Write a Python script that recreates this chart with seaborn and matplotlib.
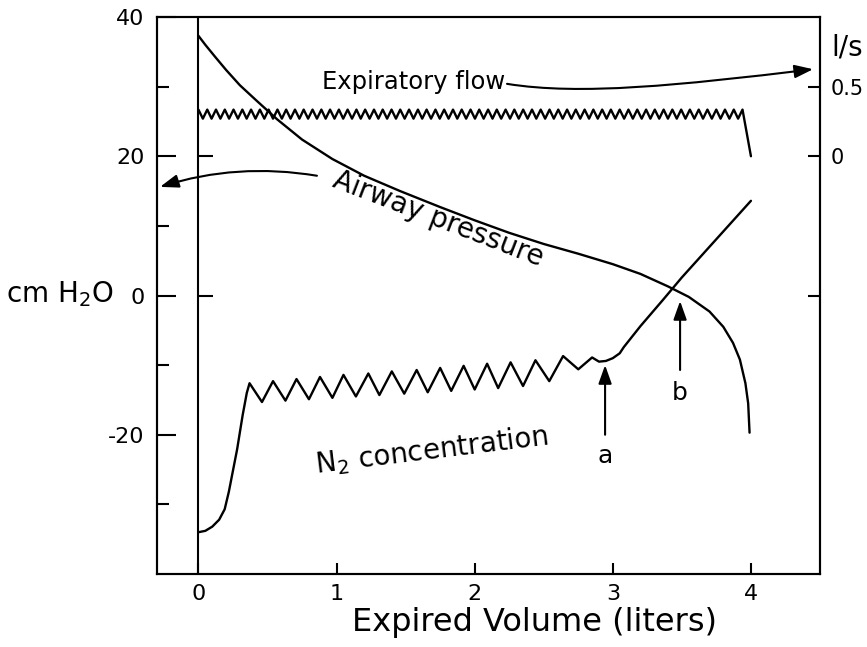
import numpy as np
import pandas as pd
import matplotlib
matplotlib.use("Agg")
import matplotlib.pyplot as plt
import seaborn as sns
from matplotlib.patches import FancyArrowPatch
from matplotlib.path import Path

# ---------------- data ----------------
# Airway pressure (cm H2O) vs expired volume (liters)
pressure_volume = [0.00, 0.05, 0.12, 0.20, 0.30, 0.42, 0.57, 0.75, 0.97, 1.20,
                   1.46, 1.75, 2.00, 2.25, 2.50, 2.75, 3.00, 3.20, 3.40, 3.55,
                   3.70, 3.80, 3.87, 3.92, 3.96, 3.98, 3.99]
pressure_value = [37.3, 36.0, 34.3, 32.4, 30.2, 28.0, 25.3, 22.4, 19.6, 17.2,
                  15.0, 12.7, 10.8, 9.0, 7.4, 6.0, 4.5, 3.1, 1.3, -0.2,
                  -2.3, -4.5, -6.8, -9.2, -12.6, -15.5, -19.7]

# N2 concentration (drawn on the cm H2O scale)
n2_volume = [0.00, 0.05, 0.10, 0.15, 0.19, 0.22, 0.28, 0.32, 0.35, 0.37,
             0.46, 0.54, 0.63, 0.71, 0.80, 0.88, 0.97, 1.05, 1.14, 1.23,
             1.31, 1.40, 1.49, 1.58, 1.66, 1.75, 1.83, 1.92, 2.00, 2.09,
             2.17, 2.26, 2.35, 2.44, 2.54, 2.64, 2.75, 2.85, 2.90, 2.95,
             3.00, 3.05, 3.08, 3.20, 3.36, 3.50, 3.75, 4.00]
n2_value = [-34.0, -33.8, -33.2, -32.2, -30.7, -28.2, -22.1, -17.2, -14.0, -12.6,
            -15.3, -12.3, -15.1, -12.0, -14.9, -11.7, -14.7, -11.4, -14.5, -11.2,
            -14.3, -10.9, -14.1, -10.7, -13.9, -10.4, -13.7, -10.1, -13.5, -9.8,
            -13.3, -9.6, -13.0, -9.3, -12.3, -8.7, -10.6, -8.9, -9.5, -9.4,
            -9.0, -8.3, -7.4, -4.4, -0.7, 2.6, 8.1, 13.6]

# Expiratory flow (l/s)
flow_volume = [0.000, 0.032, 0.064, 0.095, 0.127, 0.159, 0.191, 0.222, 0.254, 0.286,
               0.318, 0.349, 0.381, 0.413, 0.445, 0.477, 0.508, 0.540, 0.572, 0.604,
               0.635, 0.667, 0.699, 0.731, 0.762, 0.794, 0.826, 0.858, 0.890, 0.921,
               0.953, 0.985, 1.017, 1.048, 1.080, 1.112, 1.144, 1.175, 1.207, 1.239,
               1.271, 1.303, 1.334, 1.366, 1.398, 1.430, 1.461, 1.493, 1.525, 1.557,
               1.589, 1.620, 1.652, 1.684, 1.716, 1.747, 1.779, 1.811, 1.843, 1.874,
               1.906, 1.938, 1.970, 2.002, 2.033, 2.065, 2.097, 2.129, 2.160, 2.192,
               2.224, 2.256, 2.287, 2.319, 2.351, 2.383, 2.415, 2.446, 2.478, 2.510,
               2.542, 2.573, 2.605, 2.637, 2.669, 2.700, 2.732, 2.764, 2.796, 2.828,
               2.859, 2.891, 2.923, 2.955, 2.986, 3.018, 3.050, 3.082, 3.113, 3.145,
               3.177, 3.209, 3.241, 3.272, 3.304, 3.336, 3.368, 3.399, 3.431, 3.463,
               3.495, 3.526, 3.558, 3.590, 3.622, 3.653, 3.685, 3.717, 3.749, 3.780,
               3.812, 3.844, 3.876, 3.907, 3.939, 4.000]
flow_rate = [0.335, 0.27, 0.335, 0.27, 0.335, 0.27, 0.335, 0.27, 0.335, 0.27,
             0.335, 0.27, 0.335, 0.27, 0.335, 0.27, 0.335, 0.27, 0.335, 0.27,
             0.335, 0.27, 0.335, 0.27, 0.335, 0.27, 0.335, 0.27, 0.335, 0.27,
             0.335, 0.27, 0.335, 0.27, 0.335, 0.27, 0.335, 0.27, 0.335, 0.27,
             0.335, 0.27, 0.335, 0.27, 0.335, 0.27, 0.335, 0.27, 0.335, 0.27,
             0.335, 0.27, 0.335, 0.27, 0.335, 0.27, 0.335, 0.27, 0.335, 0.27,
             0.335, 0.27, 0.335, 0.27, 0.335, 0.27, 0.335, 0.27, 0.335, 0.27,
             0.335, 0.27, 0.335, 0.27, 0.335, 0.27, 0.335, 0.27, 0.335, 0.27,
             0.335, 0.27, 0.335, 0.27, 0.335, 0.27, 0.335, 0.27, 0.335, 0.27,
             0.335, 0.27, 0.335, 0.27, 0.335, 0.27, 0.335, 0.27, 0.335, 0.27,
             0.335, 0.27, 0.335, 0.27, 0.335, 0.27, 0.335, 0.27, 0.335, 0.27,
             0.335, 0.27, 0.335, 0.27, 0.335, 0.27, 0.335, 0.27, 0.335, 0.27,
             0.335, 0.27, 0.335, 0.27, 0.335, 0.0]

x_ticks = [0, 1, 2, 3, 4]
x_tick_labels = ["0", "1", "2", "3", "4"]
left_ticks = [-20, 0, 20, 40]
left_tick_labels = ["-20", "0", "20", "40"]
left_minor_ticks = [-30, -10, 10, 30]
right_ticks = [-1, 0, 0.5]
right_tick_labels = ["", "0", "0.5"]
inner_ticks = [0, 20]

# ---------------- style ----------------
sns.set_theme(style="ticks", rc={
    "axes.edgecolor": "black", "text.color": "black",
    "xtick.color": "black", "ytick.color": "black",
    "axes.labelcolor": "black",
})
plt.rcParams["font.family"] = ["DejaVu Sans"]
plt.rcParams["mathtext.fontset"] = "dejavusans"

LW = 1.7
fig = plt.figure(figsize=(8.67, 6.47), dpi=100)
ax = fig.add_axes([157 / 867, 1 - 574 / 647, (820 - 157) / 867, (574 - 17) / 647])
ax2 = ax.twinx()

df_p = pd.DataFrame({"volume": pressure_volume, "value": pressure_value})
df_n = pd.DataFrame({"volume": n2_volume, "value": n2_value})
df_f = pd.DataFrame({"volume": flow_volume, "rate": flow_rate})

sns.lineplot(data=df_p, x="volume", y="value", ax=ax, color="black", lw=LW,
             sort=False, estimator=None)
sns.lineplot(data=df_n, x="volume", y="value", ax=ax, color="black", lw=LW,
             sort=False, estimator=None, solid_joinstyle="round")
sns.lineplot(data=df_f, x="volume", y="rate", ax=ax2, color="black", lw=LW,
             sort=False, estimator=None)

# inner vertical axis at zero volume
ax.axvline(0, color="black", lw=1.5, zorder=1)
ax.plot([0] * len(inner_ticks), inner_ticks, linestyle="none", marker=1,
        markersize=11, mew=1.5, color="black")

# limits and ticks
ax.set_xlim(-0.3, 4.5)
ax.set_ylim(-40, 40)
ax2.set_ylim(-3, 1)
ax.set_xticks(x_ticks)
ax.set_xticklabels(x_tick_labels)
ax.set_yticks(left_ticks)
ax.set_yticklabels(left_tick_labels)
ax.set_yticks(left_minor_ticks, minor=True)
ax2.set_yticks(right_ticks)
ax2.set_yticklabels(right_tick_labels)

ax.tick_params(axis="x", direction="in", length=8, width=1.5, labelsize=16, pad=7,
               top=False)
ax.tick_params(axis="y", which="major", direction="in", length=13.5, width=1.5,
               labelsize=16, pad=9, right=False)
ax.tick_params(axis="y", which="minor", direction="in", length=8.5, width=1.5,
               right=False)
ax2.tick_params(axis="y", direction="in", length=9, width=1.5, labelsize=15, pad=8)

for a in (ax, ax2):
    for s in a.spines.values():
        s.set_linewidth(1.5)
        s.set_color("black")
        s.set_visible(True)

ax.set_xlabel("Expired Volume (liters)", fontsize=23, va="top")
ax.xaxis.set_label_coords(0.570, -0.060)
ax.set_ylabel("cm H$_2$O", fontsize=20, rotation=0, ha="center", va="center")
ax.yaxis.set_label_coords(-0.146, 0.503)
ax2.set_ylabel("")
ax2.text(1.041, 0.946, "l/s", transform=ax2.transAxes, fontsize=20,
         ha="center", va="center")

# annotations
ax.text(1.560, 30.7, "Expiratory flow", fontsize=17.5, ha="center", va="center")
ax.text(1.735, 11.0, "Airway pressure", fontsize=20, ha="center", va="center",
        rotation=-21)
ax.text(1.69, -22.3, "N$_2$ concentration", fontsize=20, ha="center", va="center",
        rotation=7)
ax.text(2.944, -23.0, "a", fontsize=18, ha="center", va="center")
ax.text(3.487, -14.0, "b", fontsize=18, ha="center", va="center")

arrow_kw = dict(arrowstyle="-|>,head_length=0.7,head_width=0.25", color="black",
                lw=1.5, mutation_scale=16, shrinkA=0, shrinkB=0)
ax.annotate("", xy=(2.944, -10.0), xytext=(2.944, -20.0), arrowprops=arrow_kw)
ax.annotate("", xy=(3.487, -0.8), xytext=(3.487, -10.7), arrowprops=arrow_kw)
ax.annotate("", xy=(-0.278, 15.6), xytext=(0.858, 17.2),
            arrowprops=dict(connectionstyle="arc3,rad=0.12", **arrow_kw),
            annotation_clip=False)

flow_path = Path([(2.234, 30.4), (2.763, 28.7), (3.487, 30.2), (4.45, 32.5)],
                 [Path.MOVETO, Path.CURVE4, Path.CURVE4, Path.CURVE4])
ax.add_patch(FancyArrowPatch(path=flow_path,
                             arrowstyle="-|>,head_length=0.7,head_width=0.25",
                             mutation_scale=16, lw=1.5, color="black",
                             clip_on=False))

fig.savefig("out.png", dpi=100)
